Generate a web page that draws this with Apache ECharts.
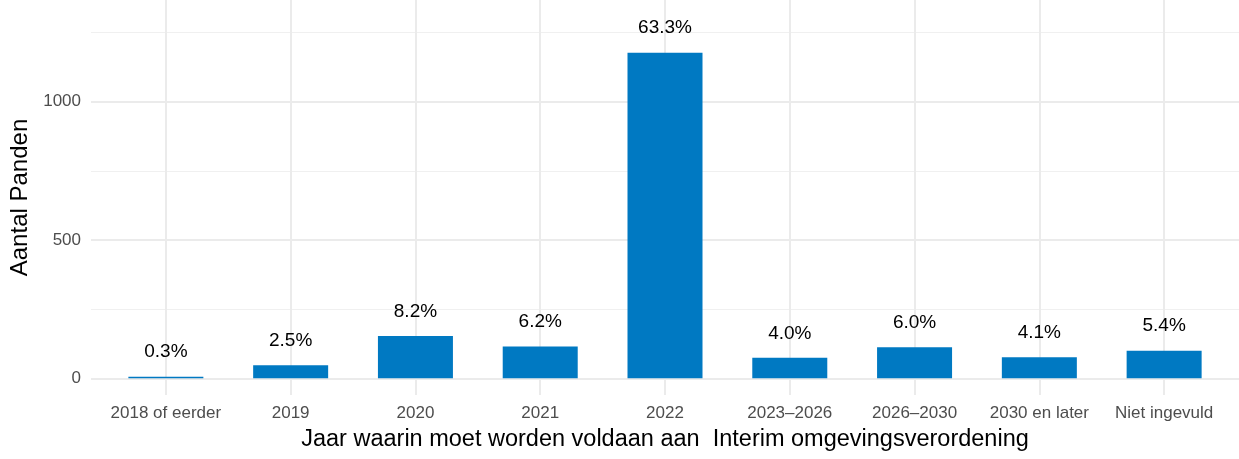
<!DOCTYPE html>
<html>
<head>
<meta charset="utf-8">
<script src="https://cdn.jsdelivr.net/npm/echarts@6/dist/echarts.min.js"></script>
<style>
html,body{margin:0;padding:0;background:#fff;}
#chart{width:1239px;height:459px;}
</style>
</head>
<body>
<div id="chart"></div>
<script>
var categories = ["2018 of eerder", "2019", "2020", "2021", "2022", "2023\u20132026", "2026\u20132030", "2030 en later", "Niet ingevuld"];
var values = [6, 47, 153, 115, 1177, 74, 112, 76, 100];
var percentLabels = ["0.3%", "2.5%", "8.2%", "6.2%", "63.3%", "4.0%", "6.0%", "4.1%", "5.4%"];
var majorTicks = [0, 500, 1000];
var minorTicks = [250, 750, 1250];

var FONT = "Liberation Sans, Arial, sans-serif";
var catIdx = categories.map(function (c, i) { return i; });

var chart = echarts.init(document.getElementById('chart'), null, {renderer: 'canvas'});
chart.setOption({
  animation: false,
  backgroundColor: '#ffffff',
  grid: {left: 91, right: 0, top: 0, bottom: 64, containLabel: false, outerBoundsMode: 'none'},
  xAxis: {
    type: 'value',
    min: -0.6,
    max: 8.6,
    axisLine: {show: false},
    axisTick: {show: false, customValues: catIdx},
    splitLine: {show: true, lineStyle: {color: '#ebebeb', width: 2}},
    axisLabel: {
      customValues: catIdx,
      formatter: function (v) { return categories[Math.round(v)]; },
      color: '#4d4d4d', fontSize: 17, fontFamily: FONT, margin: 10
    },
    name: 'Jaar waarin moet worden voldaan aan  Interim omgevingsverordening',
    nameLocation: 'middle',
    nameGap: 33,
    nameTextStyle: {color: '#000', fontSize: 23.5, fontFamily: FONT}
  },
  yAxis: [{
    type: 'value',
    min: -60.4,
    max: 1367.7,
    axisLine: {show: false},
    axisTick: {show: false, customValues: majorTicks},
    splitLine: {show: true, lineStyle: {color: '#ebebeb', width: 2}},
    axisLabel: {
      customValues: majorTicks,
      formatter: function (v) { return String(v); },
      color: '#4d4d4d', fontSize: 17, fontFamily: FONT, margin: 10
    },
    name: 'Aantal Panden',
    nameLocation: 'middle',
    nameRotate: 90,
    nameGap: 55,
    nameTextStyle: {color: '#000', fontSize: 24, fontFamily: FONT}
  }, {
    type: 'value',
    min: -60.4,
    max: 1367.7,
    position: 'left',
    axisLine: {show: false},
    axisTick: {show: false, customValues: minorTicks},
    splitLine: {show: true, lineStyle: {color: '#f0f0f0', width: 1}},
    axisLabel: {show: false}
  }],
  series: [{
    type: 'bar',
    yAxisIndex: 0,
    barWidth: 75,
    data: values.map(function (v, i) { return [i, v]; }),
    itemStyle: {color: '#0079c2'},
    label: {
      show: true,
      position: 'top',
      distance: 15,
      formatter: function (p) { return percentLabels[p.dataIndex]; },
      color: '#000', fontSize: 19, fontFamily: FONT
    }
  }]
});
</script>
</body>
</html>
